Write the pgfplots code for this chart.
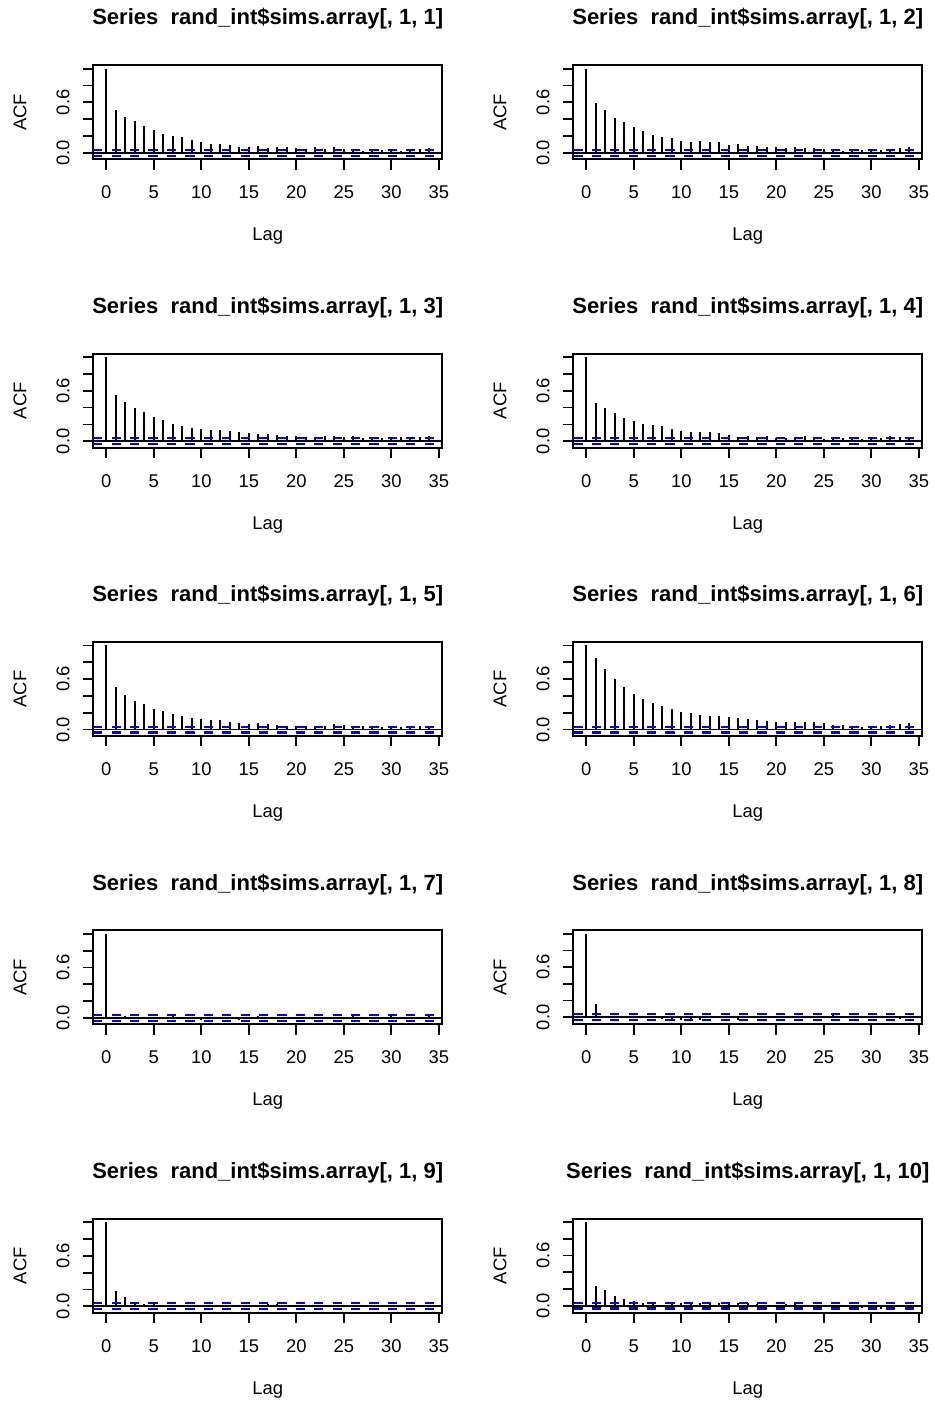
\documentclass[border=0pt]{standalone}
\usepackage{fontspec}
\setmainfont{Liberation Sans}
\usepackage{pgfplots}
\usepackage{pgfplotstable}
\pgfplotsset{compat=1.18}

% ACF of the ten simulated series, lags 0..34
\pgfplotstableread{
lag s1 s2 s3 s4 s5 s6 s7 s8 s9 s10
0 1 1 1 1 1 1 1 1 1 1
1 0.508 0.591 0.550 0.458 0.502 0.853 0.008 0.155 0.183 0.239
2 0.429 0.512 0.470 0.390 0.406 0.717 0.020 0.010 0.112 0.183
3 0.373 0.417 0.394 0.335 0.339 0.602 -0.010 0.006 0.028 0.112
4 0.317 0.369 0.343 0.275 0.307 0.502 0.005 -0.008 0.028 0.084
5 0.266 0.302 0.291 0.235 0.243 0.422 0.012 0.004 0.036 0.060
6 0.226 0.262 0.247 0.207 0.219 0.359 -0.008 0.012 0.010 0.032
7 0.198 0.218 0.207 0.195 0.187 0.319 0.020 -0.012 0.008 0.024
8 0.183 0.194 0.179 0.179 0.163 0.279 -0.005 -0.020 -0.006 0.012
9 0.155 0.171 0.159 0.151 0.139 0.243 0.006 -0.048 0.020 0.016
10 0.127 0.143 0.143 0.127 0.124 0.215 -0.028 -0.030 0.012 0.028
11 0.107 0.135 0.135 0.112 0.112 0.195 0.010 -0.050 -0.008 0.040
12 0.103 0.139 0.139 0.104 0.112 0.179 -0.018 -0.030 0.006 0.032
13 0.095 0.127 0.127 0.104 0.092 0.163 0.012 0.020 0.010 0.044
14 0.067 0.131 0.108 0.096 0.080 0.159 -0.020 -0.010 0.004 0.036
15 0.071 0.095 0.092 0.072 0.068 0.147 0.006 0.008 -0.006 0.028
16 0.079 0.103 0.088 0.056 0.076 0.135 0.020 -0.030 0.010 0.032
17 0.063 0.083 0.084 0.064 0.064 0.127 -0.010 0.006 0.030 0.036
18 0.067 0.079 0.080 0.048 0.060 0.116 0.012 0.010 0.028 0.024
19 0.067 0.067 0.068 0.060 0.048 0.100 -0.006 -0.006 -0.008 0.008
20 0.056 0.067 0.068 0.040 0.048 0.092 0.004 0.008 0.006 -0.008
21 0.044 0.063 0.056 0.040 0.040 0.088 0.010 0.004 0.004 0.016
22 0.067 0.071 0.052 0.040 0.044 0.088 0.012 -0.008 0.010 0.020
23 0.044 0.056 0.068 0.068 0.048 0.088 -0.004 0.010 -0.006 0.004
24 0.067 0.063 0.068 0.052 0.064 0.092 -0.012 0.006 0.004 -0.008
25 0.048 0.052 0.052 0.028 0.052 0.076 0.008 0.014 0.008 0.008
26 0.048 0.040 0.064 0.040 0.040 0.060 0.044 0.030 -0.006 0.004
27 0.028 0.024 0.044 0.044 0.044 0.052 -0.006 0.006 0.004 -0.010
28 0.044 0.036 0.036 0.044 0.040 0.036 0.010 -0.006 0.010 -0.006
29 0.032 0.040 0.044 0.028 0.036 0.032 -0.008 0.008 -0.008 -0.028
30 0.044 0.048 0.044 0.044 0.020 0.040 0.020 0.004 0.006 -0.012
31 0.024 0.040 0.048 0.044 0.032 0.044 0.006 -0.008 -0.004 -0.036
32 0.052 0.048 0.056 0.064 0.020 0.060 -0.010 0.010 0.008 -0.008
33 0.044 0.063 0.052 0.056 0.040 0.068 0.008 -0.020 0.004 -0.006
34 0.060 0.071 0.068 0.056 0.040 0.076 0.020 0.006 -0.010 -0.052
}\acfdata

\pgfplotsset{
  acf/.style={
    scale only axis, width=174.5pt, height=47pt, anchor=south west,
    xmin=-1.36, xmax=35.36, ymin=-0.076, ymax=1.041,
    xtick={0,5,10,15,20,25,30,35},
    ytick={0,0.2,0.4,0.6,0.8,1}, yticklabels={0.0,,,0.6,,},
    xtick pos=lower, ytick pos=left,
    tick align=outside, major tick length=5.2pt,
    major tick style={black, line width=0.9pt},
    axis line style={line width=0.9pt},
    /pgf/number format/assume math mode=true,
    tick label style={font=\fontsize{9.2}{11}\selectfont, inner sep=0pt},
    xticklabel style={anchor=north},
    xticklabel shift=8pt,
    yticklabel style={rotate=90, anchor=south},
    yticklabel shift=6.45pt,
    xlabel={Lag}, ylabel={ACF},
    every axis title/.style={at={(axis description cs:0.5,1)}, anchor=base,
      yshift=20.15pt, font=\bfseries\fontsize{11}{13}\selectfont},
    every axis x label/.style={at={(axis description cs:0.5,0)}, anchor=base,
      yshift=-40.8pt, font=\fontsize{9.2}{11}\selectfont},
    every axis y label/.style={at={(axis description cs:0,0.5)}, xshift=-36.65pt,
      rotate=90, anchor=center, font=\fontsize{9.2}{11}\selectfont},
  }
}

\newcommand\acfpanel[5]{%
  \begin{axis}[acf, at={(#1,#2)}, ymin=#5,
    title={Series\ \ rand\_int\$sims.array[, 1, #3]}]
    \addplot[ycomb, black, line width=0.9pt] table[x=lag, y=#4] {\acfdata};
    \addplot[black, line width=0.9pt] coordinates {(-1.36,0) (35.36,0)};
    \addplot[blue, line width=1.1pt, dash pattern=on 4.6pt off 4.6pt]
      coordinates {(-1.36,0.035) (35.36,0.035)};
    \addplot[blue, line width=1.1pt, dash pattern=on 4.6pt off 4.6pt]
      coordinates {(-1.36,-0.035) (35.36,-0.035)};
  \end{axis}%
}

\begin{document}
\begin{tikzpicture}
\useasboundingbox (0,0) rectangle (467pt,700.5pt);
\acfpanel{46.65pt}{620.85pt}{1}{s1}{-0.076}
\acfpanel{286.65pt}{620.85pt}{2}{s2}{-0.076}
\acfpanel{46.65pt}{476.675pt}{3}{s3}{-0.076}
\acfpanel{286.65pt}{476.675pt}{4}{s4}{-0.076}
\acfpanel{46.65pt}{332.5pt}{5}{s5}{-0.076}
\acfpanel{286.65pt}{332.5pt}{6}{s6}{-0.076}
\acfpanel{46.65pt}{188.325pt}{7}{s7}{-0.076}
\acfpanel{286.65pt}{188.325pt}{8}{s8}{-0.085}
\acfpanel{46.65pt}{44.15pt}{9}{s9}{-0.076}
\acfpanel{286.65pt}{44.15pt}{10}{s10}{-0.085}
\end{tikzpicture}
\end{document}
